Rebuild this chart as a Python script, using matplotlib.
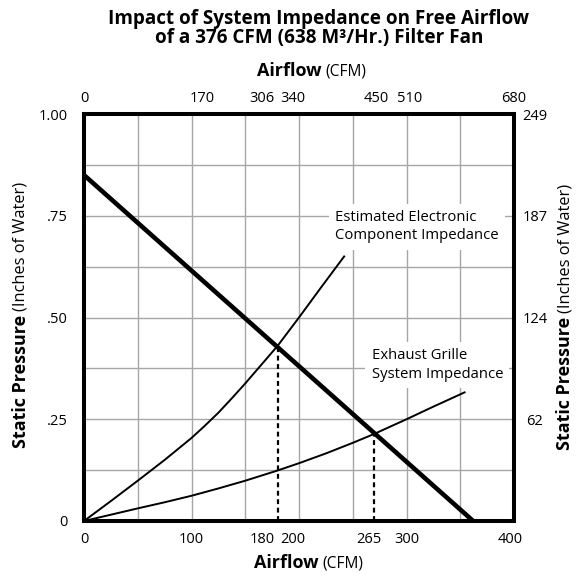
import matplotlib
matplotlib.use("Agg")
import matplotlib.pyplot as plt
import matplotlib.transforms as mtransforms
import numpy as np

plt.rcParams['font.family'] = ['Open Sans', 'DejaVu Sans']

# ---- data ----
title = "Impact of System Impedance on Free Airflow\nof a 376 CFM (638 M\u00b3/Hr.) Filter Fan"

fan_x = [0, 362]
fan_y = [0.85, 0.0]

elec_x = [0, 25, 50, 75, 100, 112, 125, 137, 150, 165, 180, 200, 220, 242]
elec_y = [0, 0.049, 0.099, 0.150, 0.204, 0.233, 0.266, 0.300, 0.338, 0.384,
          0.43, 0.50, 0.572, 0.650]

exh_x = [0, 25, 50, 75, 100, 125, 150, 180, 200, 225, 250, 270, 300, 325, 354]
exh_y = [0, 0.0155, 0.031, 0.046, 0.062, 0.080, 0.099, 0.124, 0.142, 0.166,
         0.192, 0.214, 0.250, 0.281, 0.316]

op_x = [180, 270]
op_y = [0.43, 0.216]

bottom_ticks = [0, 100, 180, 200, 265, 300, 400]
bottom_labels = ['0', '100', '180', '200', '265', '300', '400']
top_labels = ['0', '170', '306', '340', '450', '510', '680']

left_ticks = [0, 0.25, 0.5, 0.75, 1.0]
left_labels = ['0', '.25', '.50', '.75', '1.00']
right_ticks = [0.25, 0.5, 0.75, 1.0]
right_labels = ['62', '124', '187', '249']

elec_label = "Estimated Electronic\nComponent Impedance"
exh_label = "Exhaust Grille\nSystem Impedance"

# ---- figure ----
fig = plt.figure(figsize=(5.85, 5.76), dpi=100)
ax = fig.add_axes([84/585, 1-521/576, 430/585, 407/576])
ax.set_xlim(0, 400)
ax.set_ylim(0, 1.0)

grid_color = '#a6a6a6'
ax.xaxis.remove_overlapping_locs = False
ax.yaxis.remove_overlapping_locs = False
ax.set_xticks(np.arange(0, 401, 50), minor=True)
ax.set_yticks(np.arange(0, 1.001, 0.125), minor=True)
ax.grid(which='minor', color=grid_color, linewidth=1.0, zorder=0)
ax.grid(which='major', visible=False)
ax.set_axisbelow(True)

for s in ax.spines.values():
    s.set_linewidth(2.9)
    s.set_zorder(6)

ax.set_xticks(bottom_ticks)
ax.set_xticklabels(bottom_labels)
ax.set_yticks(left_ticks)
ax.set_yticklabels(left_labels)
ax.tick_params(which='both', length=0)
ax.tick_params(axis='x', pad=8, labelsize=10.5)
ax.tick_params(axis='y', pad=11.5, labelsize=10.5)

# curves
ax.plot(fan_x, fan_y, color='black', linewidth=3.3, solid_capstyle='butt', zorder=4)
ax.plot(elec_x, elec_y, color='black', linewidth=1.4, zorder=3)
ax.plot(exh_x, exh_y, color='black', linewidth=1.4, zorder=3)
ax.vlines(op_x, 0, op_y, colors='black', linestyles=(0, (2.2, 1.6)), linewidth=1.6, zorder=3)

bbox = dict(facecolor='white', edgecolor='none', pad=4.5)
ax.text(233.5, 0.764, elec_label, ha='left', va='top', fontsize=10.7,
        linespacing=1.3, bbox=bbox, zorder=2)
ax.text(267.6, 0.424, exh_label, ha='left', va='top', fontsize=10.7,
        linespacing=1.3, bbox=bbox, zorder=2)

# top axis
axt = ax.twiny()
axt.set_xlim(ax.get_xlim())
axt.set_xticks(bottom_ticks)
axt.set_xticklabels(top_labels)
axt.tick_params(length=0, pad=6, labelsize=10.5)
for s in axt.spines.values():
    s.set_visible(False)

# right axis
axr = ax.twinx()
axr.set_ylim(ax.get_ylim())
axr.set_yticks(right_ticks)
axr.set_yticklabels(right_labels)
axr.tick_params(length=0, pad=15.1, labelsize=10.5)
for s in axr.spines.values():
    s.set_visible(False)
for lab in axr.get_yticklabels():
    lab.set_horizontalalignment('center')


def nudge(label, dx_pt):
    label.set_transform(label.get_transform() +
                        mtransforms.ScaledTranslation(dx_pt/72, 0, fig.dpi_scale_trans))

bl = ax.get_xticklabels()
nudge(bl[2], -10.8)
nudge(bl[3], -4.3)
nudge(bl[6], -2.9)
tl = axt.get_xticklabels()
nudge(tl[1], 7.5)
nudge(tl[2], -11.5)
nudge(tl[3], -4.3)
nudge(tl[4], 5.5)
nudge(tl[5], 2.5)

# titles
fig.text(0.545, 1-9/576, title, ha='center', va='top', fontsize=13.6,
         fontweight='bold', linespacing=0.95)

def two_part(x, y, bold, normal, rotation=0):
    if rotation == 0:
        t = fig.text(x, y, bold, ha='right', va='baseline', fontsize=13, fontweight='bold')
        ax.annotate(normal, xy=(1, 0), xycoords=t, xytext=(3, 3.6),
                    textcoords='offset points', ha='left', va='baseline', fontsize=11.2)
    else:
        t = fig.text(x, y, bold, ha='center', va='bottom', fontsize=13.0,
                     fontweight='bold', rotation=90)
        ax.annotate(normal, xy=(0.5, 1), xycoords=t, xytext=(0, 3),
                    textcoords='offset points', ha='center', va='bottom',
                    fontsize=11.8, rotation=90)

two_part(0.5436, 1-568/576, 'Airflow', '(CFM)')
two_part(0.5499, 1-76/576, 'Airflow', '(CFM)')
two_part(21/585, 1-448/576, 'Static Pressure', '(Inches of Water)', rotation=90)
two_part(565/585, 1-450/576, 'Static Pressure', '(Inches of Water)', rotation=90)

fig.savefig('out.png', dpi=100)
